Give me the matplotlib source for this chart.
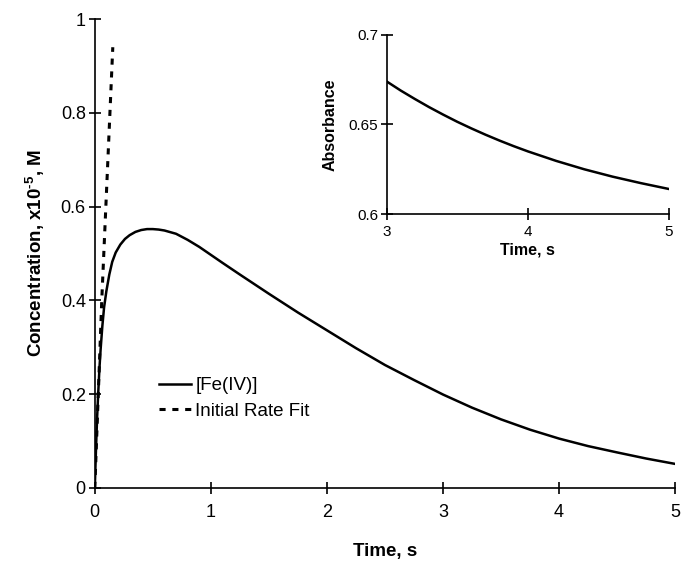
import matplotlib
matplotlib.use("Agg")
import matplotlib.pyplot as plt

plt.rcParams['font.family'] = ['Liberation Sans', 'DejaVu Sans']
plt.rcParams['mathtext.fontset'] = 'custom'
plt.rcParams['mathtext.rm'] = 'Liberation Sans'
plt.rcParams['mathtext.bf'] = 'Liberation Sans:bold'

# Main curve: [Fe(IV)] concentration (x1e-5 M) vs time (s)
t_fe = [0, 0.005, 0.01, 0.02, 0.03, 0.04, 0.05, 0.065, 0.08, 0.1, 0.125,
        0.15, 0.18, 0.22, 0.26, 0.3, 0.35, 0.4, 0.45, 0.5, 0.55, 0.6, 0.7,
        0.8, 0.9, 1.0, 1.1, 1.25, 1.5, 1.75, 2.0, 2.25, 2.5, 2.75, 3.0,
        3.25, 3.5, 3.75, 4.0, 4.25, 4.5, 4.75, 5.0]
c_fe = [0, 0.04, 0.08, 0.15, 0.205, 0.255, 0.295, 0.345, 0.385, 0.42, 0.455,
        0.482, 0.502, 0.519, 0.531, 0.539, 0.546, 0.55, 0.552, 0.552, 0.551,
        0.549, 0.542, 0.529, 0.514, 0.497, 0.480, 0.455, 0.414, 0.374, 0.336,
        0.298, 0.262, 0.23, 0.199, 0.171, 0.146, 0.124, 0.105, 0.089, 0.0755,
        0.0625, 0.051]

# Initial rate fit
t_fit = [0, 0.06, 0.155]
c_fit = [0, 0.40, 0.94]

# Inset: absorbance vs time
t_abs = [3.0, 3.1, 3.2, 3.3, 3.4, 3.5, 3.6, 3.7, 3.8, 3.9, 4.0, 4.2, 4.4,
         4.6, 4.8, 5.0]
a_abs = [0.674, 0.6689, 0.6642, 0.6597, 0.6555, 0.6515, 0.6478, 0.6443,
         0.641, 0.6379, 0.635, 0.6297, 0.625, 0.6209, 0.6173, 0.614]

main_xticks = [0, 1, 2, 3, 4, 5]
main_yticks = [0, 0.2, 0.4, 0.6, 0.8, 1.0]
main_yticklabels = ['0', '0.2', '0.4', '0.6', '0.8', '1']
inset_xticks = [3, 4, 5]
inset_yticks = [0.6, 0.65, 0.7]
inset_yticklabels = ['0.6', '0.65', '0.7']

fig = plt.figure(figsize=(6.82, 5.62), dpi=100)
ax = fig.add_axes([0.139, 0.132, 0.851, 0.834])
ax.plot(t_fe, c_fe, color='black', lw=1.8, label='[Fe(IV)]')
ax.plot(t_fit, c_fit, color='black', lw=2.2, linestyle=(0, (2.0, 2.2)),
        label='Initial Rate Fit')
ax.set_xlim(0, 5)
ax.set_ylim(0, 1)
ax.set_xticks(main_xticks)
ax.set_yticks(main_yticks)
ax.set_yticklabels(main_yticklabels)
for s in ['top', 'right']:
    ax.spines[s].set_visible(False)
for s in ['left', 'bottom']:
    ax.spines[s].set_linewidth(1.2)
ax.tick_params(direction='inout', length=9, width=1.2, labelsize=13, pad=2)
ax.tick_params(axis='x', pad=7)
ax.set_xlabel('Time, s', fontsize=13.5, fontweight='bold', labelpad=16)
ax.set_ylabel('Concentration, x10$^{\\mathbf{\u2010}\\mathbf{5}}$, M',
              fontsize=13.5, fontweight='bold', labelpad=10)
ax.legend(loc='upper left', bbox_to_anchor=(0.208, 0.359),
          bbox_transform=fig.transFigure, frameon=False, fontsize=13.5,
          handlelength=1.7, handletextpad=0.25, labelspacing=0.45)

ins = fig.add_axes([0.567, 0.619, 0.414, 0.319])
ins.plot(t_abs, a_abs, color='black', lw=1.8)
ins.set_xlim(3, 5)
ins.set_ylim(0.6, 0.7)
ins.set_xticks(inset_xticks)
ins.set_yticks(inset_yticks)
ins.set_yticklabels(inset_yticklabels)
for s in ['top', 'right']:
    ins.spines[s].set_visible(False)
for s in ['left', 'bottom']:
    ins.spines[s].set_linewidth(1.2)
ins.tick_params(direction='inout', length=8, width=1.2, labelsize=11, pad=2)
ins.tick_params(axis='x', pad=4)
ins.set_xlabel('Time, s', fontsize=11.5, fontweight='bold', labelpad=2)
ins.set_ylabel('Absorbance', fontsize=11.5, fontweight='bold', labelpad=8)

fig.savefig('out.png', dpi=100)
